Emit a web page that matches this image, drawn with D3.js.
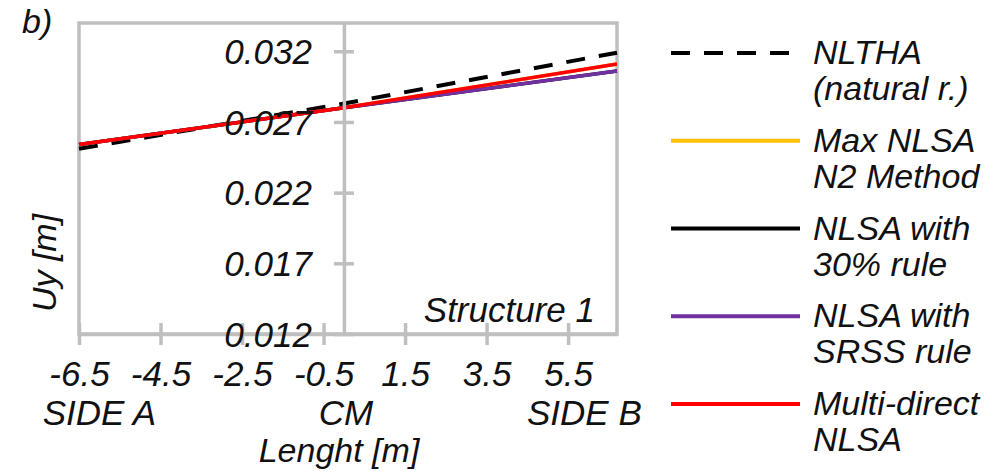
<!DOCTYPE html>
<html>
<head>
<meta charset="utf-8">
<script src="https://cdn.jsdelivr.net/npm/d3@7"></script>
<style>
  html, body { margin: 0; padding: 0; background: #fff; }
  svg { display: block; }
  text { font-family: "Liberation Sans", Arial, sans-serif; font-style: italic; fill: #111; }
</style>
</head>
<body>
<svg id="chart" width="996" height="471"></svg>
<script>
// ---- data ----
const xPositions = [-6.5, 0, 6.7];
const nltha     = [0.0251, 0.0283, 0.0319];
const maxN2     = [0.0254, 0.0280, 0.0311];
const rule30    = [0.0254, 0.0280, 0.0306];
const srss      = [0.0254, 0.0280, 0.0306];
const multiDir  = [0.0254, 0.0280, 0.0311];

const xTicks = [-6.5, -4.5, -2.5, -0.5, 1.5, 3.5, 5.5];
const yTicks = [0.012, 0.017, 0.022, 0.027, 0.032];
const xDomain = [-6.5, 6.7];
const yDomain = [0.012, 0.034];

const seriesNames = [
  ["NLTHA", "(natural r.)"],
  ["Max NLSA", "N2 Method"],
  ["NLSA with", "30% rule"],
  ["NLSA with", "SRSS rule"],
  ["Multi-direct", "NLSA"]
];
const seriesValues = [nltha, maxN2, rule30, srss, multiDir];
const seriesColors = ["#000000", "#ffc000", "#000000", "#7030a0", "#ff0000"];
const seriesDash = ["19,14", null, null, null, null];
const sideLabels = [["SIDE A", -6.0], ["CM", 0.05], ["SIDE B", 5.9]];

// ---- layout ----
const svg = d3.select("#chart");
const L = 79, R = 617, T = 23, B = 334;
const x = d3.scaleLinear().domain(xDomain).range([L, R]);
const y = d3.scaleLinear().domain(yDomain).range([B, T]);
const axisColor = "#bfbfbf";

// frame
svg.append("rect").attr("x", L).attr("y", T).attr("width", R - L).attr("height", B - T)
  .attr("fill", "none").attr("stroke", axisColor).attr("stroke-width", 3.5);

// x axis
const gx = svg.append("g").attr("transform", `translate(0,${B})`)
  .call(d3.axisBottom(x).tickValues(xTicks).tickSize(0).tickFormat(d3.format(".1f")));
gx.select(".domain").attr("stroke", axisColor).attr("stroke-width", 3.5);
gx.selectAll(".tick").append("line").attr("y1", -11).attr("y2", 11)
  .attr("stroke", axisColor).attr("stroke-width", 3.5);
gx.selectAll(".tick text").attr("y", 52).attr("dy", 0)
  .attr("font-size", 35).attr("fill", "#111")
  .style("font-family", "'Liberation Sans', Arial, sans-serif").style("font-style", "italic")
  .text(d => d3.format(".1f")(d).replace("−", "-"));

// y axis at x = 0
const gy = svg.append("g").attr("transform", `translate(${x(0)},0)`)
  .call(d3.axisLeft(y).tickValues(yTicks).tickSize(0).tickFormat(d3.format(".3f")));
gy.select(".domain").attr("stroke", axisColor).attr("stroke-width", 3.5);
gy.selectAll(".tick").append("line").attr("x1", -10).attr("x2", 10)
  .attr("stroke", axisColor).attr("stroke-width", 3.5);

// series lines
const line = d3.line().x((d, i) => x(xPositions[i])).y(d => y(d));
const drawOrder = [0, 1, 2, 3, 4];
drawOrder.forEach(k => {
  svg.append("path").datum(seriesValues[k])
    .attr("d", line).attr("fill", "none")
    .attr("stroke", seriesColors[k])
    .attr("stroke-width", k === 0 ? 4 : 3.5)
    .attr("stroke-dasharray", seriesDash[k]);
});

// y tick labels on top
gy.raise();
gy.selectAll(".tick text").attr("x", -32).attr("dy", "0.35em")
  .attr("font-size", 35).attr("fill", "#111")
  .style("font-family", "'Liberation Sans', Arial, sans-serif").style("font-style", "italic");

// side labels
svg.selectAll(".side").data(sideLabels).enter().append("text")
  .attr("x", d => x(d[1])).attr("y", 425)
  .attr("text-anchor", "middle").attr("font-size", 35).text(d => d[0]);

// axis titles
svg.append("text").attr("x", 339).attr("y", 462).attr("text-anchor", "middle")
  .attr("font-size", 34).text("Lenght [m]");
svg.append("text").attr("transform", "translate(56,263) rotate(-90)")
  .attr("text-anchor", "middle").attr("font-size", 34).text("Uy [m]");
svg.append("text").attr("x", 595).attr("y", 322).attr("text-anchor", "end")
  .attr("font-size", 35).text("Structure 1");
svg.append("text").attr("x", 22).attr("y", 33).attr("font-size", 34).text("b)");

// legend
const lg = svg.append("g");
const legendY = d3.scaleLinear().domain([0, 4]).range([53, 404]);
seriesNames.forEach((names, k) => {
  const yy = legendY(k);
  lg.append("line").attr("x1", 671).attr("x2", 800).attr("y1", yy).attr("y2", yy)
    .attr("stroke", seriesColors[k]).attr("stroke-width", 4)
    .attr("stroke-dasharray", seriesDash[k]);
  names.forEach((t, j) => {
    lg.append("text").attr("x", 813).attr("y", yy + 11 + j * 36)
      .attr("font-size", 34).text(t);
  });
});
</script>
</body>
</html>
